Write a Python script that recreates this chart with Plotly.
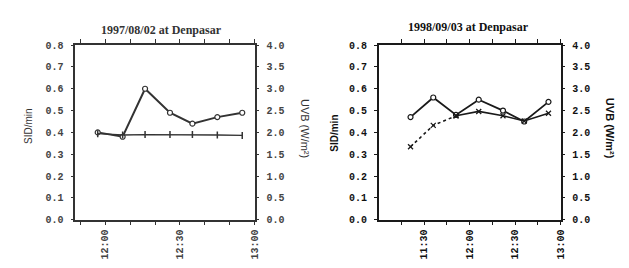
import plotly.graph_objects as go

# ---- Chart 1: 1997/08/02 at Denpasar ----
date1 = "1997-08-02"
times1 = ["11:57", "12:07", "12:16", "12:26", "12:35", "12:45", "12:55"]
sid1 = [0.40, 0.38, 0.60, 0.49, 0.44, 0.47, 0.49]
uvb1 = [1.97, 1.94, 1.95, 1.95, 1.95, 1.94, 1.93]
xticks1 = ["11:50", "12:00", "12:10", "12:20", "12:30", "12:40", "12:50", "13:00"]
xlabels1 = ["", "12:00", "", "", "12:30", "", "", "13:00"]
range1 = ["11:48", "13:00"]

# ---- Chart 2: 1998/09/03 at Denpasar ----
date2 = "1998-09-03"
times2 = ["11:21", "11:36", "11:51", "12:06", "12:22", "12:36", "12:52"]
sid2 = [0.47, 0.56, 0.48, 0.55, 0.50, 0.45, 0.54]
uvb2 = [1.67, 2.16, 2.38, 2.48, 2.38, 2.26, 2.44]
xticks2 = ["11:15", "11:30", "11:45", "12:00", "12:15", "12:30", "12:45", "13:00"]
xlabels2 = ["", "11:30", "", "12:00", "", "12:30", "", "13:00"]
range2 = ["11:00", "13:00"]

titles = ["1997/08/02 at Denpasar", "1998/09/03 at Denpasar"]
ylab_left = "SID/min"
ylab_right = "UVB (W/m²)"
sid_range = [0, 0.8]
uvb_range = [0, 4.0]


def dt(d, ts):
    return [d + " " + t for t in ts]


INK1 = "#333333"
INK2 = "#1a1a1a"

fig = go.Figure()

# chart 1 traces
fig.add_trace(go.Scatter(
    x=dt(date1, times1), y=sid1, xaxis="x", yaxis="y", mode="lines+markers",
    line=dict(color=INK1, width=2),
    marker=dict(symbol="circle", size=5, color="white", line=dict(color=INK1, width=1.2)),
    showlegend=False))
fig.add_trace(go.Scatter(
    x=dt(date1, times1), y=uvb1, xaxis="x", yaxis="y2", mode="lines+markers",
    line=dict(color=INK1, width=1.3),
    marker=dict(symbol="line-ns-open", size=5, color=INK1, line=dict(color=INK1, width=1.5)),
    showlegend=False))

# chart 2 traces
fig.add_trace(go.Scatter(
    x=dt(date2, times2), y=sid2, xaxis="x2", yaxis="y3", mode="lines+markers",
    line=dict(color=INK2, width=1.8),
    marker=dict(symbol="circle", size=5, color="white", line=dict(color=INK2, width=1.2)),
    showlegend=False))
fig.add_trace(go.Scatter(
    x=dt(date2, times2[:3]), y=uvb2[:3], xaxis="x2", yaxis="y4", mode="lines+markers",
    line=dict(color=INK2, width=1.6, dash="dot"),
    marker=dict(symbol="x-thin-open", size=5, color=INK2, line=dict(color=INK2, width=1.3)),
    showlegend=False))
fig.add_trace(go.Scatter(
    x=dt(date2, times2[2:]), y=uvb2[2:], xaxis="x2", yaxis="y4", mode="lines+markers",
    line=dict(color=INK2, width=1.6),
    marker=dict(symbol="x-thin-open", size=5, color=INK2, line=dict(color=INK2, width=1.3)),
    showlegend=False))

TICKFONT1 = dict(family="Liberation Mono", size=10, color="#444444", weight="bold")
TICKFONT2 = dict(family="Liberation Mono", size=10, color="#111111", weight="bold")

ydom = [0.196, 0.875]


def xaxis(dom, d, ticks, labels, rng, font, col):
    return dict(domain=dom, type="date", range=dt(d, rng),
                tickvals=dt(d, ticks), ticktext=labels, tickangle=-90,
                tickfont=font, ticks="outside", ticklen=4, tickcolor=col, tickwidth=1.2,
                showline=True, linecolor=col, linewidth=1.5, mirror="ticks",
                showgrid=False, zeroline=False, fixedrange=True)


def yaxis(anchor, side, rng, dtick, fmt, font, col, overlaying=None):
    a = dict(domain=ydom, anchor=anchor, side=side, range=rng, dtick=dtick, tick0=0,
             tickformat=fmt, tickfont=font, ticks="outside", ticklen=3, tickcolor=col,
             showline=True, linecolor=col, linewidth=1.5, showgrid=False, zeroline=False,
             ticklabelstandoff=5, fixedrange=True)
    if overlaying:
        a["overlaying"] = overlaying
    return a


fig.update_layout(
    width=629, height=268,
    margin=dict(l=0, r=0, t=0, b=0),
    paper_bgcolor="white", plot_bgcolor="white",
    xaxis=xaxis([0.108, 0.396], date1, xticks1, xlabels1, range1, TICKFONT1, INK1),
    yaxis=yaxis("x", "left", sid_range, 0.1, ".1f", TICKFONT1, INK1),
    yaxis2=yaxis("x", "right", uvb_range, 0.5, ".1f", TICKFONT1, INK1, overlaying="y"),
    xaxis2=xaxis([0.595, 0.887], date2, xticks2, xlabels2, range2, TICKFONT2, INK2),
    yaxis3=yaxis("x2", "left", sid_range, 0.1, ".1f", TICKFONT2, INK2),
    yaxis4=yaxis("x2", "right", uvb_range, 0.5, ".1f", TICKFONT2, INK2, overlaying="y3"),
)

anns = [
    dict(text=titles[0], x=155, y=18, font=dict(family="Liberation Serif", size=12, color="#333", weight="bold")),
    dict(text=titles[1], x=465, y=15, font=dict(family="Liberation Serif", size=12, color="#111", weight="bold")),
    dict(text=ylab_left, x=20, y=118, textangle=-90, font=dict(family="Liberation Sans", size=10, color="#333")),
    dict(text=ylab_right, x=300, y=120, textangle=90, font=dict(family="Liberation Sans", size=11, color="#333")),
    dict(text=ylab_left, x=330, y=125, textangle=-90, font=dict(family="Liberation Sans", size=10, color="#111", weight="bold")),
    dict(text=ylab_right, x=608, y=120, textangle=90, font=dict(family="Liberation Sans", size=11, color="#111", weight="bold")),
]
for a in anns:
    fig.add_annotation(text=a["text"], x=a["x"] / 629, y=1 - a["y"] / 268, xref="paper", yref="paper",
                       xanchor="center", yanchor="middle", showarrow=False,
                       textangle=a.get("textangle", 0), font=a["font"])

fig.write_html("out.html")
